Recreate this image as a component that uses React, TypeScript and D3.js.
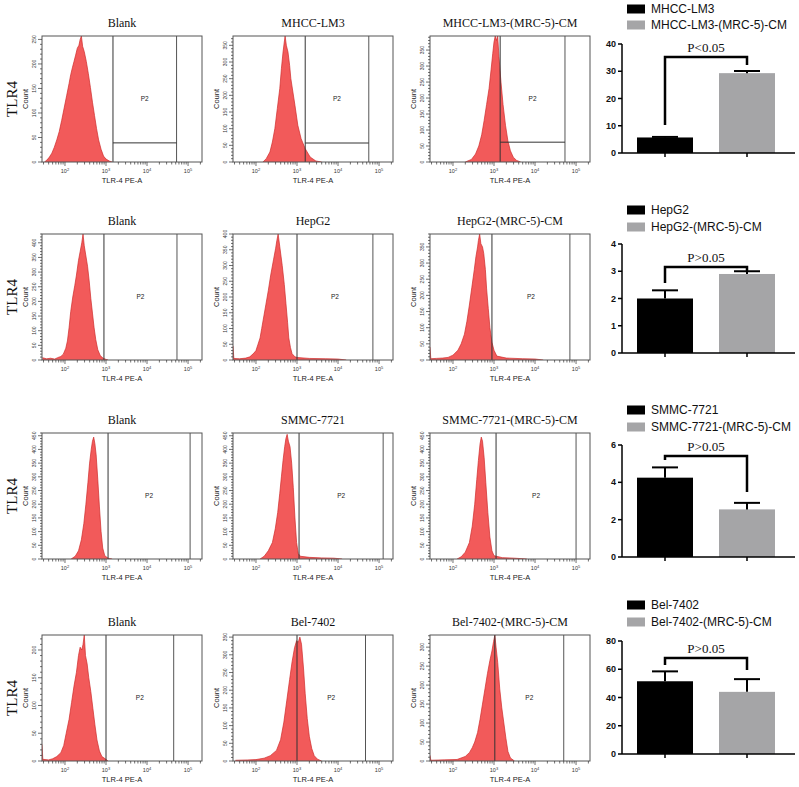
import * as d3 from "d3";

type Pt = [number, number]; // [log10 intensity, count]

// ---- flow histograms: titles, counts, gates ----
const plotTitles = [
  ["Blank", "MHCC-LM3", "MHCC-LM3-(MRC-5)-CM"],
  ["Blank", "HepG2", "HepG2-(MRC-5)-CM"],
  ["Blank", "SMMC-7721", "SMMC-7721-(MRC-5)-CM"],
  ["Blank", "Bel-7402", "Bel-7402-(MRC-5)-CM"],
];

const histLM3Blank: Pt[] = [
  [1.5, 0], [1.56, 4], [1.62, 10], [1.68, 18], [1.74, 30], [1.8, 45], [1.86, 62], [1.92, 85],
  [1.98, 110], [2.04, 135], [2.1, 160], [2.14, 178], [2.18, 192], [2.22, 205], [2.26, 218],
  [2.3, 232], [2.34, 238], [2.37, 250], [2.4, 257], [2.43, 236], [2.47, 225], [2.52, 205],
  [2.57, 180], [2.62, 152], [2.67, 122], [2.72, 95], [2.77, 68], [2.82, 45], [2.88, 26],
  [2.94, 12], [3.0, 6], [3.08, 2], [3.15, 0],
];
const histLM3: Pt[] = [
  [2.17, 0], [2.25, 10], [2.34, 30], [2.4, 60], [2.46, 100], [2.52, 160], [2.58, 220], [2.62, 280],
  [2.66, 330], [2.69, 360], [2.71, 378], [2.74, 350], [2.78, 330], [2.82, 290], [2.85, 250],
  [2.9, 210], [2.95, 170], [3.02, 110], [3.1, 70], [3.2, 40], [3.32, 15], [3.46, 3], [3.6, 0],
];
const histLM3CM: Pt[] = [
  [2.3, 0], [2.45, 8], [2.55, 25], [2.63, 50], [2.7, 85], [2.76, 130], [2.82, 180], [2.88, 230],
  [2.93, 290], [2.97, 340], [3.0, 375], [3.03, 394], [3.06, 380], [3.09, 394], [3.12, 330],
  [3.17, 250], [3.22, 180], [3.28, 115], [3.34, 65], [3.4, 35], [3.47, 15], [3.55, 5], [3.65, 0],
];

const histHepBlank: Pt[] = [
  [1.45, 8], [1.55, 4], [1.65, 6], [1.75, 3], [1.82, 8], [1.9, 12], [1.96, 20], [2.02, 40],
  [2.06, 65], [2.1, 110], [2.14, 165], [2.19, 215], [2.24, 255], [2.28, 290], [2.33, 340],
  [2.37, 370], [2.41, 400], [2.44, 430], [2.47, 390], [2.51, 355], [2.55, 320], [2.59, 270],
  [2.63, 210], [2.67, 160], [2.71, 110], [2.75, 70], [2.8, 35], [2.86, 15], [2.93, 6], [3.0, 2],
  [3.05, 0],
];
const histHep: Pt[] = [
  [1.44, 45], [1.46, 5], [1.6, 4], [1.75, 6], [1.85, 10], [1.95, 22], [2.0, 30], [2.05, 50],
  [2.1, 70], [2.14, 100], [2.18, 130], [2.24, 175], [2.3, 220], [2.36, 270], [2.43, 320],
  [2.48, 355], [2.51, 380], [2.54, 400], [2.58, 360], [2.64, 300], [2.69, 240], [2.73, 180],
  [2.77, 120], [2.8, 70], [2.84, 40], [2.88, 20], [2.95, 10], [3.0, 8], [3.3, 5], [3.7, 4],
  [4.0, 3], [4.2, 0],
];
const histHepCM: Pt[] = [
  [1.44, 40], [1.46, 4], [1.6, 5], [1.75, 6], [1.88, 8], [2.0, 15], [2.12, 30], [2.2, 50],
  [2.28, 80], [2.34, 120], [2.4, 170], [2.46, 225], [2.52, 280], [2.56, 320], [2.6, 350],
  [2.62, 370], [2.65, 390], [2.68, 360], [2.72, 350], [2.75, 330], [2.79, 280], [2.82, 220],
  [2.86, 160], [2.9, 100], [2.95, 55], [3.0, 30], [3.07, 12], [3.3, 6], [3.7, 4], [4.0, 3],
  [4.2, 0],
];

const histSmmcBlank: Pt[] = [
  [2.15, 0], [2.25, 10], [2.33, 30], [2.4, 70], [2.46, 130], [2.51, 200], [2.56, 280], [2.6, 350],
  [2.64, 400], [2.67, 430], [2.7, 445], [2.73, 420], [2.76, 380], [2.8, 290], [2.84, 190],
  [2.88, 100], [2.92, 40], [2.97, 12], [3.05, 3], [3.15, 0],
];
const histSmmc: Pt[] = [
  [2.1, 0], [2.2, 10], [2.3, 30], [2.4, 60], [2.47, 110], [2.53, 170], [2.58, 240], [2.62, 300],
  [2.66, 360], [2.7, 410], [2.73, 440], [2.76, 455], [2.79, 430], [2.83, 410], [2.87, 350],
  [2.91, 260], [2.95, 150], [2.99, 60], [3.03, 20], [3.08, 10], [3.3, 6], [3.6, 4], [3.9, 3],
  [4.1, 0],
];
const histSmmcCM: Pt[] = [
  [2.1, 0], [2.2, 8], [2.3, 25], [2.4, 60], [2.47, 120], [2.53, 200], [2.58, 290], [2.62, 360],
  [2.66, 420], [2.69, 445], [2.72, 430], [2.76, 370], [2.8, 280], [2.85, 170], [2.9, 80],
  [2.95, 30], [3.0, 12], [3.2, 5], [3.5, 3], [3.8, 0],
];

const histBelBlank: Pt[] = [
  [1.44, 30], [1.46, 3], [1.6, 2], [1.7, 4], [1.8, 8], [1.9, 15], [1.97, 28], [2.03, 50],
  [2.1, 75], [2.16, 105], [2.22, 135], [2.28, 160], [2.33, 190], [2.37, 205], [2.41, 200],
  [2.44, 210], [2.47, 227], [2.5, 190], [2.54, 175], [2.58, 150], [2.63, 125], [2.68, 95],
  [2.73, 65], [2.78, 38], [2.84, 18], [2.9, 8], [2.98, 4], [3.05, 0],
];
const histBel: Pt[] = [
  [1.5, 2], [1.8, 3], [2.0, 4], [2.2, 8], [2.35, 15], [2.5, 30], [2.6, 60], [2.68, 110],
  [2.75, 170], [2.82, 230], [2.88, 280], [2.94, 320], [2.99, 340], [3.03, 335], [3.07, 350],
  [3.11, 330], [3.16, 260], [3.2, 190], [3.25, 120], [3.3, 70], [3.36, 35], [3.42, 15],
  [3.5, 5], [3.6, 0],
];
const histBelCM: Pt[] = [
  [1.44, 15], [1.46, 2], [1.8, 3], [2.1, 4], [2.3, 12], [2.4, 22], [2.47, 35], [2.53, 50],
  [2.6, 75], [2.66, 110], [2.72, 150], [2.78, 190], [2.84, 230], [2.9, 265], [2.95, 290],
  [2.99, 315], [3.02, 332], [3.05, 300], [3.09, 260], [3.14, 190], [3.19, 140], [3.24, 100],
  [3.29, 60], [3.34, 25], [3.4, 8], [3.5, 0],
];

const histograms: Pt[][][] = [
  [histLM3Blank, histLM3, histLM3CM],
  [histHepBlank, histHep, histHepCM],
  [histSmmcBlank, histSmmc, histSmmcCM],
  [histBelBlank, histBel, histBelCM],
];

const countMax = [
  [257, 378, 394],
  [430, 400, 390],
  [460, 460, 460],
  [227, 356, 332],
];

// P2 gate bounds (log10) and horizontal gate line (count) where drawn
const gateLo = [
  [3.17, 3.2, 3.15],
  [2.95, 3.0, 2.95],
  [3.05, 3.05, 3.05],
  [3.0, 3.0, 3.02],
];
const gateHi = [
  [4.72, 4.75, 4.73],
  [4.73, 4.85, 4.85],
  [5.05, 5.1, 5.0],
  [4.65, 4.67, 4.7],
];
const gateLine: (number | null)[][] = [
  [39, 57, 62],
  [null, null, null],
  [null, null, null],
  [null, null, null],
];

// ---- bar charts ----
const barGroups = [
  ["MHCC-LM3", "MHCC-LM3-(MRC-5)-CM"],
  ["HepG2", "HepG2-(MRC-5)-CM"],
  ["SMMC-7721", "SMMC-7721-(MRC-5)-CM"],
  ["Bel-7402", "Bel-7402-(MRC-5)-CM"],
];
const barMeans = [[5.7, 29.3], [2.0, 2.9], [4.25, 2.55], [51.5, 44]];
const barErrors = [[0.2, 0.8], [0.3, 0.1], [0.55, 0.35], [7, 9]];
const barMax = [40, 4, 6, 80];
const barTickStep = [10, 1, 2, 20];
const bracketTop = [35.2, 3.16, 5.41, 68];
const bracketLeft = [10.3, 2.57, 5.2, 63];
const bracketRight = [32.3, 2.97, 3.48, 59.5];
const pLabels = ["P<0.05", "P>0.05", "P>0.05", "P>0.05"];

// ---- layout ----
const W = 799;
const H = 787;
const colLeft = [42, 233, 430];
const rowTop = [36, 234, 433, 635];
const FW = 160;
const FH = 126;
const LOG_MIN = 1.44;
const LOG_MAX = 5.34;

const barY0 = [153, 353, 557, 754];
const barY1 = [44, 244, 445, 641];
const legendY = [[9, 25], [210, 227], [410, 427], [605, 622]];
const AXIS_X = 622;
const AXIS_END = 795;

const SERIF = "'Liberation Serif', 'Times New Roman', serif";
const SANS = "'Liberation Sans', Arial, sans-serif";
const FILL_RED = "#f25a5a";
const LINE_RED = "#cf2b2b";
const GRAY = "#a5a5a7";

function FlowPlot({ r, c }: { r: number; c: number }) {
  const left = colLeft[c];
  const top = rowTop[r];
  const bottom = top + FH;
  const yMax = countMax[r][c];
  const x = d3
    .scaleLog()
    .domain([Math.pow(10, LOG_MIN), Math.pow(10, LOG_MAX)])
    .range([left, left + FW]);
  const y = d3.scaleLinear().domain([0, yMax]).range([bottom, top]);
  const area = d3
    .area<Pt>()
    .x((d) => x(Math.pow(10, d[0])))
    .y0(bottom)
    .y1((d) => y(Math.min(d[1], yMax)));
  const line = d3
    .line<Pt>()
    .x((d) => x(Math.pow(10, d[0])))
    .y((d) => y(Math.min(d[1], yMax)));
  const hist = histograms[r][c];

  const xTicks: { v: number; major: boolean }[] = [];
  for (let e = 1; e <= 5; e++) {
    for (let m = 1; m <= 9; m++) {
      const v = m * Math.pow(10, e);
      const lv = Math.log10(v);
      if (lv >= LOG_MIN && lv <= LOG_MAX) xTicks.push({ v, major: m === 1 });
    }
  }
  const yTicks = d3.range(0, yMax + 0.1, 10);
  const gx0 = x(Math.pow(10, gateLo[r][c]));
  const gx1 = x(Math.pow(10, gateHi[r][c]));
  const gl = gateLine[r][c];
  const clipId = `clip-${r}-${c}`;

  return (
    <g>
      <defs>
        <clipPath id={clipId}>
          <rect x={left} y={top} width={FW} height={FH} />
        </clipPath>
      </defs>
      <text
        x={left + FW / 2}
        y={top - 9}
        textAnchor="middle"
        fontFamily={SERIF}
        fontSize={12}
        fill="#111"
      >
        {plotTitles[r][c]}
      </text>
      <g clipPath={`url(#${clipId})`}>
        <path d={area(hist) ?? ""} fill={FILL_RED} />
        <path d={line(hist) ?? ""} fill="none" stroke={LINE_RED} strokeWidth={0.7} />
      </g>
      {/* gate P2 */}
      <line x1={gx0} x2={gx0} y1={top} y2={bottom} stroke="#333" strokeWidth={1} />
      <line x1={gx1} x2={gx1} y1={top} y2={bottom} stroke="#555" strokeWidth={1} />
      {gl !== null && (
        <line x1={gx0} x2={gx1} y1={y(gl)} y2={y(gl)} stroke="#333" strokeWidth={1} />
      )}
      <text
        x={(gx0 + gx1) / 2}
        y={top + FH / 2 + 2}
        textAnchor="middle"
        fontFamily={SANS}
        fontSize={6.5}
        fill="#222"
      >
        P2
      </text>
      <rect x={left} y={top} width={FW} height={FH} fill="none" stroke="#555" strokeWidth={1} />
      {/* y axis */}
      {yTicks.map((v) => {
        const major = v % 50 === 0;
        return (
          <line
            key={`y${v}`}
            x1={left}
            x2={left - (major ? 4 : 2)}
            y1={y(v)}
            y2={y(v)}
            stroke="#333"
            strokeWidth={0.7}
          />
        );
      })}
      {yTicks
        .filter((v) => v % 50 === 0)
        .map((v) => (
          <text
            key={`yl${v}`}
            transform={`translate(${left - 6},${y(v)}) rotate(-90)`}
            textAnchor="middle"
            fontFamily={SANS}
            fontSize={5}
            fill="#333"
          >
            {v}
          </text>
        ))}
      <text
        transform={`translate(${left - 14},${top + FH / 2}) rotate(-90)`}
        textAnchor="middle"
        fontFamily={SANS}
        fontSize={7.5}
        fill="#222"
      >
        Count
      </text>
      {/* x axis */}
      {xTicks.map((t, i) => (
        <line
          key={`x${i}`}
          x1={x(t.v)}
          x2={x(t.v)}
          y1={bottom}
          y2={bottom + (t.major ? 4 : 2.5)}
          stroke="#333"
          strokeWidth={0.7}
        />
      ))}
      {[2, 3, 4, 5].map((e) => (
        <text
          key={`xl${e}`}
          x={x(Math.pow(10, e))}
          y={bottom + 11}
          textAnchor="middle"
          fontFamily={SANS}
          fontSize={5.5}
          fill="#333"
        >
          10
          <tspan dy={-2.5} fontSize={4}>
            {e}
          </tspan>
        </text>
      ))}
      <text
        x={left + FW / 2}
        y={bottom + 21}
        textAnchor="middle"
        fontFamily={SANS}
        fontSize={7.5}
        fill="#222"
      >
        TLR-4 PE-A
      </text>
    </g>
  );
}

function BarPanel({ r }: { r: number }) {
  const groups = barGroups[r];
  const y = d3.scaleLinear().domain([0, barMax[r]]).range([barY0[r], barY1[r]]);
  const x = d3.scalePoint<string>().domain(groups).range([665, 747]);
  const bw = 56;
  const colors = ["#000000", GRAY];
  const ticks = d3.range(0, barMax[r] + 1e-9, barTickStep[r]);
  const xl = x(groups[0]) ?? 0;
  const xr = x(groups[1]) ?? 0;
  const bracket = d3.path();
  bracket.moveTo(xl, y(bracketLeft[r]));
  bracket.lineTo(xl, y(bracketTop[r]));
  bracket.lineTo(xr, y(bracketTop[r]));
  bracket.lineTo(xr, y(bracketRight[r]));

  return (
    <g>
      {/* legend */}
      {groups.map((g, i) => (
        <g key={g}>
          <rect x={627} y={legendY[r][i] - 4.5} width={18} height={9} fill={colors[i]} />
          <text
            x={651}
            y={legendY[r][i] + 4}
            fontFamily={SANS}
            fontSize={12}
            fill="#111"
          >
            {g}
          </text>
        </g>
      ))}
      {/* bars */}
      {groups.map((g, i) => {
        const cx = x(g) ?? 0;
        const top = y(barMeans[r][i]);
        const et = y(barMeans[r][i] + barErrors[r][i]);
        return (
          <g key={`b${g}`}>
            <rect x={cx - bw / 2} y={top} width={bw} height={barY0[r] - top} fill={colors[i]} />
            <line x1={cx} x2={cx} y1={top} y2={et} stroke="#000" strokeWidth={2} />
            <line x1={cx - 13} x2={cx + 13} y1={et} y2={et} stroke="#000" strokeWidth={2} />
          </g>
        );
      })}
      {/* significance bracket */}
      <path d={bracket.toString()} fill="none" stroke="#000" strokeWidth={2.5} />
      <text
        x={(xl + xr) / 2}
        y={y(bracketTop[r]) - 5}
        textAnchor="middle"
        fontFamily={SERIF}
        fontSize={13}
        fill="#111"
      >
        {pLabels[r]}
      </text>
      {/* axes */}
      <line x1={AXIS_X} x2={AXIS_X} y1={barY0[r]} y2={barY1[r]} stroke="#000" strokeWidth={1.5} />
      <line x1={AXIS_X} x2={AXIS_END} y1={barY0[r]} y2={barY0[r]} stroke="#000" strokeWidth={1.5} />
      {ticks.map((t) => (
        <g key={`t${t}`}>
          <line x1={AXIS_X - 4} x2={AXIS_X} y1={y(t)} y2={y(t)} stroke="#000" strokeWidth={1.5} />
          <text
            x={AXIS_X - 6}
            y={y(t) + 3}
            textAnchor="end"
            fontFamily={SANS}
            fontWeight="bold"
            fontSize={9}
            fill="#111"
          >
            {t}
          </text>
        </g>
      ))}
      {groups.map((g) => (
        <line
          key={`xt${g}`}
          x1={x(g) ?? 0}
          x2={x(g) ?? 0}
          y1={barY0[r]}
          y2={barY0[r] + 4}
          stroke="#000"
          strokeWidth={1.5}
        />
      ))}
    </g>
  );
}

export default function App() {
  return (
    <svg
      width={W}
      height={H}
      style={{ position: "absolute", left: 0, top: 0, background: "#fff" }}
    >
      <rect width={W} height={H} fill="#fff" />
      {rowTop.map((t, r) => (
        <g key={`row${r}`}>
          <text
            transform={`translate(17,${t + FH / 2}) rotate(-90)`}
            textAnchor="middle"
            fontFamily={SERIF}
            fontSize={15}
            fill="#111"
          >
            TLR4
          </text>
          {colLeft.map((_, c) => (
            <FlowPlot key={`p${r}${c}`} r={r} c={c} />
          ))}
          <BarPanel r={r} />
        </g>
      ))}
    </svg>
  );
}
